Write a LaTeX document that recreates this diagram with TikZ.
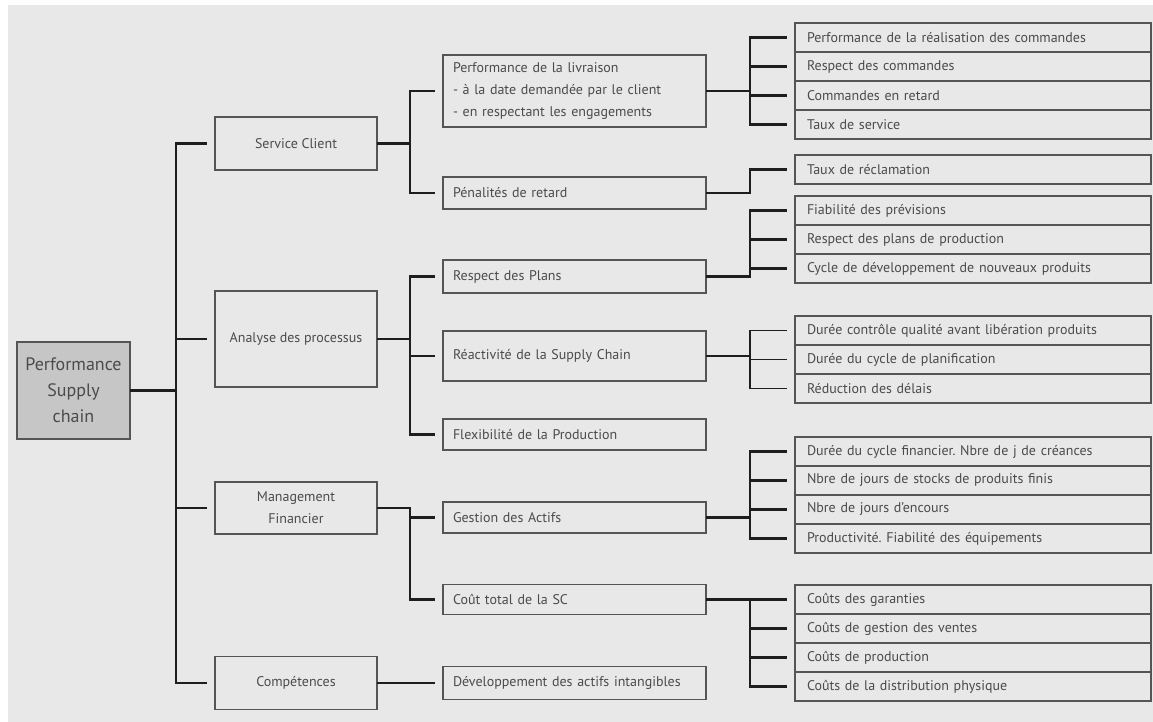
\documentclass[tikz,border=0pt]{standalone}
\usepackage{fontspec}
\setmainfont{PT Sans}
\usetikzlibrary{positioning}
\definecolor{panel}{RGB}{232,232,232}
\definecolor{rootgray}{RGB}{198,198,198}
\definecolor{boxline}{RGB}{85,85,85}
\definecolor{wirecol}{RGB}{30,30,30}
\definecolor{ink}{RGB}{75,75,75}
\frenchspacing

\begin{document}
\begin{tikzpicture}[
    x=0.5pt, y=-0.5pt,
    node distance=0pt,
    every node/.style={text=ink, outer sep=0pt},
    root/.style={rectangle, draw=boxline, fill=rootgray, line width=0.9pt, minimum width=56.5pt, minimum height=48.5pt, align=center, font=\fontsize{9}{13}\selectfont},
    topic/.style={rectangle, draw=boxline, line width=0.9pt, minimum width=81pt, align=center, font=\fontsize{7}{11}\selectfont},
    sub/.style={rectangle, draw=boxline, line width=0.9pt, text width=121.5pt, inner xsep=5pt, minimum height=16pt, align=left, font=\fontsize{7}{11}\selectfont},
    kpi/.style={rectangle, draw=boxline, line width=0.9pt, text width=166pt, inner xsep=6pt, inner ysep=0pt, minimum height=14.5pt, align=left, font=\fontsize{7}{9}\selectfont},
    wire/.style={draw=wirecol, line width=1.1pt},
    finewire/.style={draw=wirecol, line width=0.6pt},
    stub/.style={shorten >=4pt}
]
    \useasboundingbox (0,0) rectangle (1153,722);
    \fill[panel] (8,5) rectangle (1153,722);

    % Bus lines
    \coordinate (b1) at (176,0);
    \coordinate (b2) at (410,0);
    \coordinate (b3) at (750,0);

    % Root and topics
    \node[root] (perf) at (73.5,390.5) {Performance\\Supply\\chain};
    \node[topic, minimum height=26.5pt] (service) at (296,143.5) {Service Client};
    \node[topic, minimum height=48pt] (process) at (296,339) {Analyse des processus};
    \node[topic, minimum height=26pt] (finance) at (296,508) {Management\\Financier};
    \node[topic, minimum height=26.5pt] (skills) at (296,683) {Compétences};

    % Sub-items
    \node[sub, minimum height=36pt] (delivery) at (574.5,91) {Performance de la livraison\\- à la date demandée par le client\\- en respectant les engagements};
    \node[sub] (penalty) at (574.5,193) {Pénalités de retard};
    \node[sub, minimum height=16.5pt] (plans) at (574.5,276.5) {Respect des Plans};
    \node[sub, minimum height=25pt] (reactivity) at (574.5,356) {Réactivité de la Supply Chain};
    \node[sub, minimum height=15.5pt] (flexibility) at (574.5,434.5) {Flexibilité de la Production};
    \node[sub, minimum height=15.5pt] (assets) at (574.5,517.5) {Gestion des Actifs};
    \node[sub, minimum height=15pt] (cost) at (574.5,599.5) {Coût total de la SC};
    \node[sub, minimum height=16.5pt] (intangible) at (574.5,683) {Développement des actifs intangibles};

    % Indicators
    \node[kpi] (d1) at (973,37.5) {Performance de la réalisation des commandes};
    \node[kpi, below=of d1] (d2) {Respect des commandes};
    \node[kpi, below=of d2] (d3) {Commandes en retard};
    \node[kpi, below=of d3] (d4) {Taux de service};

    \node[kpi] (p1) at (973,169.5) {Taux de réclamation};

    \node[kpi] (r1) at (973,210.5) {Fiabilité des prévisions};
    \node[kpi, below=of r1] (r2) {Respect des plans de production};
    \node[kpi, below=of r2] (r3) {Cycle de développement de nouveaux produits};

    \node[kpi] (q1) at (973,330.5) {Durée contrôle qualité avant libération produits};
    \node[kpi, below=of q1] (q2) {Durée du cycle de planification};
    \node[kpi, below=of q2] (q3) {Réduction des délais};

    \node[kpi] (a1) at (973,451.5) {Durée du cycle financier. Nbre de j de créances};
    \node[kpi, below=of a1] (a2) {Nbre de jours de stocks de produits finis};
    \node[kpi, below=of a2] (a3) {Nbre de jours d'encours};
    \node[kpi, below=of a3] (a4) {Productivité. Fiabilité des équipements};

    \node[kpi] (c1) at (973,599.5) {Coûts des garanties};
    \node[kpi, below=of c1] (c2) {Coûts de gestion des ventes};
    \node[kpi, below=of c2] (c3) {Coûts de production};
    \node[kpi, below=of c3] (c4) {Coûts de la distribution physique};

    % Root to topics
    \foreach \t in {service,process,finance,skills}
        \draw[wire, stub] (perf.east) -- (perf.east -| b1) |- (\t.west);

    % Topics to sub-items
    \foreach \s in {delivery,penalty}
        \draw[wire, stub] (service.east) -- (service.east -| b2) |- (\s.west);
    \foreach \s in {plans,reactivity,flexibility}
        \draw[wire, stub] (process.east) -- (process.east -| b2) |- (\s.west);
    \foreach \s in {assets,cost}
        \draw[wire, stub] (finance.east) -- (finance.east -| b2) |- (\s.west);
    \draw[wire, stub] (skills.east) -- (intangible.west);

    % Sub-items to indicators
    \foreach \k in {d1,d2,d3,d4}
        \draw[wire, stub] (delivery.east) -- (delivery.east -| b3) |- (\k.west);
    \draw[wire, stub] (penalty.east) -- (penalty.east -| b3) |- (p1.west);
    \foreach \k in {r1,r2,r3}
        \draw[wire, stub] (plans.east) -- (plans.east -| b3) |- (\k.west);
    \foreach \k in {q1,q2,q3}
        \draw[finewire, stub] (reactivity.east) -- (reactivity.east -| b3) |- (\k.west);
    \foreach \k in {a1,a2,a3,a4}
        \draw[wire, stub] (assets.east) -- (assets.east -| b3) |- (\k.west);
    \foreach \k in {c1,c2,c3,c4}
        \draw[wire, stub] (cost.east) -- (cost.east -| b3) |- (\k.west);
\end{tikzpicture}
\end{document}
